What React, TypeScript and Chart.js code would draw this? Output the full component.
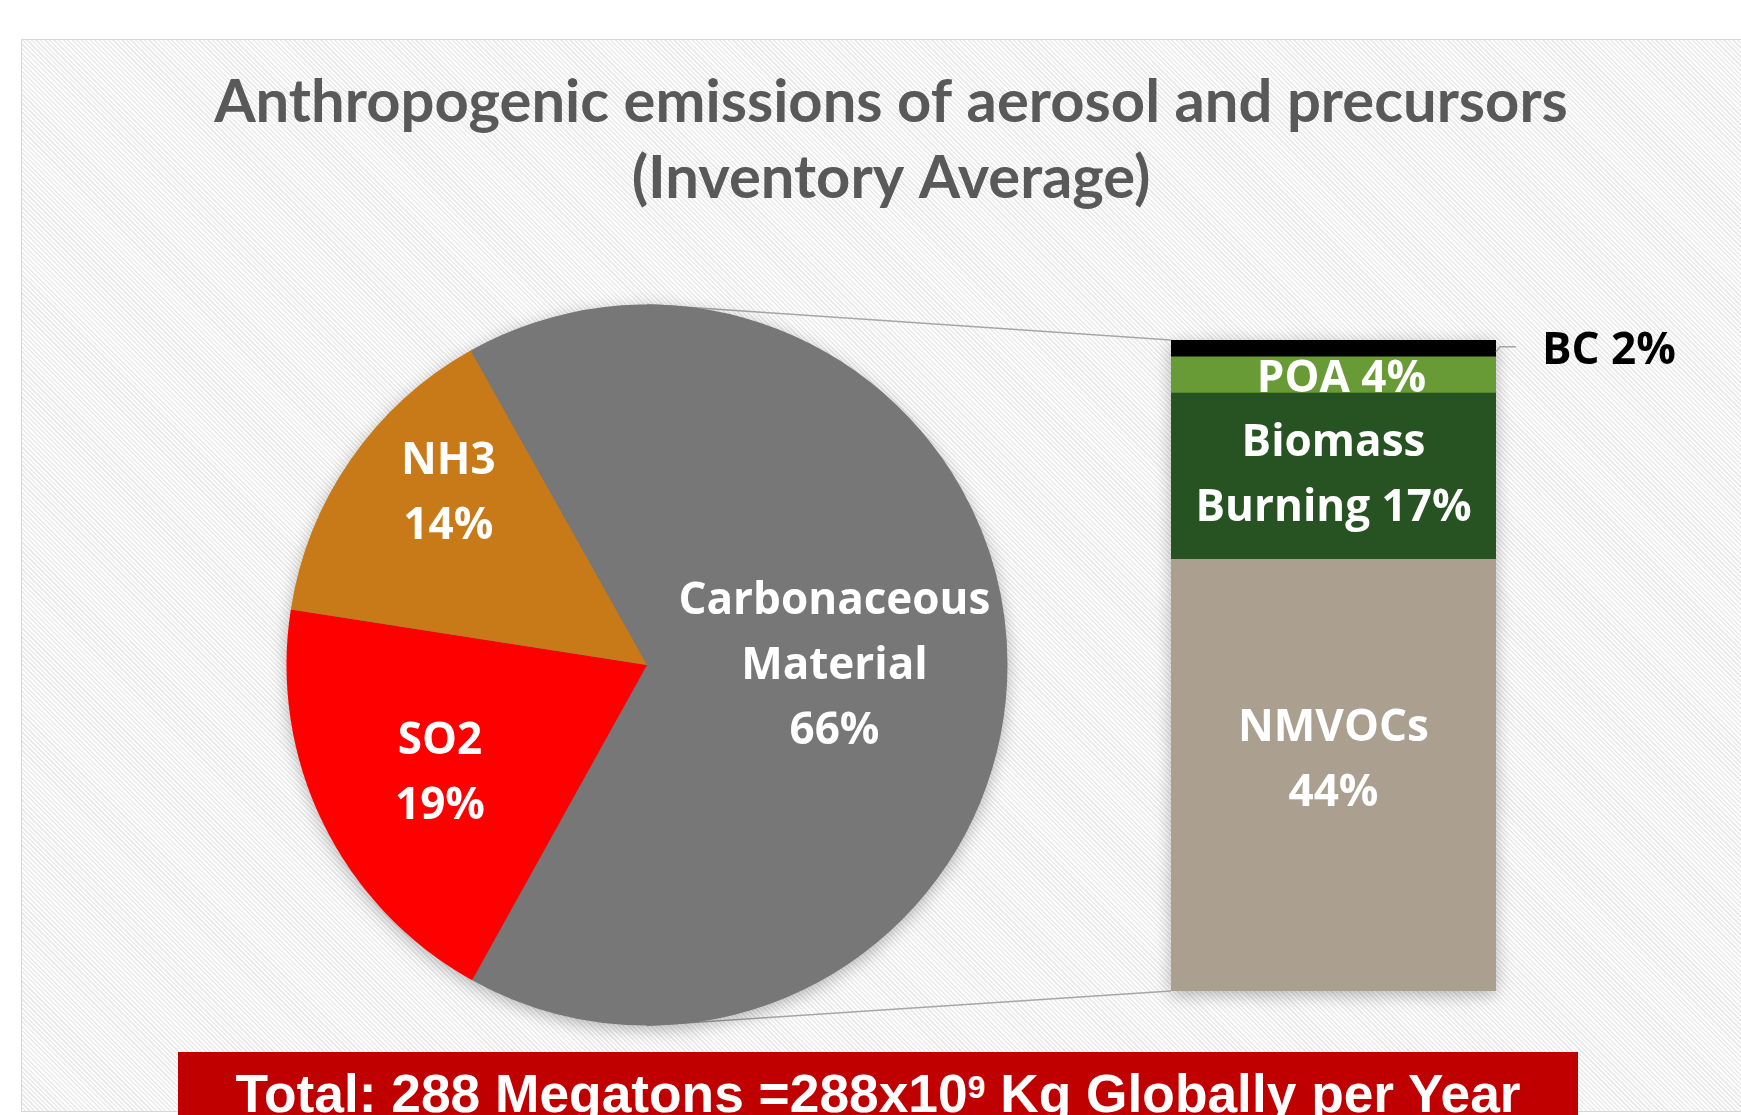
import React, { useEffect, useRef } from 'react';
import { Chart, registerables } from 'chart.js';

Chart.register(...registerables);

// ---------------- data ----------------
const titleLines = ['Anthropogenic emissions of aerosol and precursors', '(Inventory Average)'];
const pieCategories = ['Carbonaceous Material', 'SO2', 'NH3'];
const pieValues = [66.2, 19.4, 14.4];
const barCategories = ['NMVOCs', 'Biomass Burning', 'POA', 'BC'];
const barValues = [43.9, 16.9, 3.7, 1.7];
const totalMegatons = 288;
const totalExponent = 9;

// ---------------- style ----------------
const pieColors = ['#777777', '#ff0000', '#c77a17'];
const barColors = ['#aba090', '#275323', '#689a36', '#000000'];
const FRAME_W = 1719;
const FRAME_H = 1071;
const TITLE_FAMILY = 'Lato';
const LABEL_FAMILY = '"Open Sans"';
const TITLE_WIDTH = 1354; // target rendered width of the first title line
const LABEL_WIDTH = 312; // target rendered width of the word "Carbonaceous"
const LABEL_LH = 65;
const LABEL_DY = 2;
const pieLabelRadius = [0.52, 0.646, 0.73];
const pieLabelAngleShift = [0, -1.2, 6.2]; // degrees
const barLabelDx = [0, 0, 8, 0];
const barLabelDy = [-16, -2, 3, 0];
const LINE_COLOR = '#a6a6a6';

const barTotal = barValues.reduce((a, b) => a + b, 0);

function fitSize(text: string, family: string, target: number): number {
  const c = document.createElement('canvas').getContext('2d')!;
  c.font = `bold 100px ${family}`;
  const w = c.measureText(text).width;
  return w > 0 ? (100 * target) / w : 50;
}

export default function App() {
  const barCanvas = useRef<HTMLCanvasElement>(null);
  const pieCanvas = useRef<HTMLCanvasElement>(null);

  useEffect(() => {
    if (!barCanvas.current || !pieCanvas.current) return;

    const titleSize = fitSize(titleLines[0], TITLE_FAMILY, TITLE_WIDTH);
    const labelSize = fitSize(pieCategories[0].split(' ')[0], LABEL_FAMILY, LABEL_WIDTH);
    const LABEL_FONT = `bold ${labelSize}px ${LABEL_FAMILY}`;

    const stackGeom = (chart: any) => {
      const els = barValues.map((_, i) => chart.getDatasetMeta(i).data[0] as any);
      const first = els[0];
      const last = els[els.length - 1];
      return {
        els,
        left: first.x - first.width / 2,
        right: first.x + first.width / 2,
        top: last.y,
        bottom: first.base,
      };
    };

    const barPlugin = {
      id: 'barExtras',
      beforeDatasetsDraw(chart: any) {
        const g = stackGeom(chart);
        const ctx = chart.ctx as CanvasRenderingContext2D;
        ctx.save();
        ctx.shadowColor = 'rgba(0,0,0,0.28)';
        ctx.shadowBlur = 16;
        ctx.shadowOffsetY = 4;
        ctx.fillStyle = barColors[0];
        ctx.fillRect(g.left, g.top, g.right - g.left, g.bottom - g.top);
        ctx.restore();
      },
      afterDatasetsDraw(chart: any) {
        const g = stackGeom(chart);
        const ctx = chart.ctx as CanvasRenderingContext2D;
        ctx.save();
        ctx.font = LABEL_FONT;
        ctx.textAlign = 'center';
        ctx.textBaseline = 'middle';
        g.els.forEach((el: any, i: number) => {
          const pct = Math.round(barValues[i]);
          const h = el.base - el.y;
          const cy = (el.y + el.base) / 2 + barLabelDy[i] + LABEL_DY;
          const cx = el.x + barLabelDx[i];
          const words = barCategories[i].split(' ');
          if (h < LABEL_LH * 0.45) {
            ctx.strokeStyle = LINE_COLOR;
            ctx.lineWidth = 1.5;
            ctx.beginPath();
            ctx.moveTo(g.right, cy + 1.5);
            ctx.lineTo(g.right + 4, cy - 3.5);
            ctx.lineTo(g.right + 20, cy - 3.5);
            ctx.stroke();
            ctx.fillStyle = '#000000';
            ctx.textAlign = 'left';
            ctx.fillText(`${barCategories[i]} ${pct}%`, g.right + 46, cy + 1);
            ctx.textAlign = 'center';
          } else {
            let lines: string[];
            if (words.length > 1) lines = [...words.slice(0, -1), `${words[words.length - 1]} ${pct}%`];
            else if (h >= LABEL_LH * 2) lines = [words[0], `${pct}%`];
            else lines = [`${words[0]} ${pct}%`];
            ctx.fillStyle = '#ffffff';
            lines.forEach((t, k) => ctx.fillText(t, cx, cy + (k - (lines.length - 1) / 2) * LABEL_LH));
          }
        });
        ctx.restore();
      },
    };

    const hiddenAxis = {
      display: true,
      grid: { display: false },
      ticks: { display: false },
      border: { display: false },
    };

    const bar = new Chart(barCanvas.current, {
      type: 'bar',
      data: {
        labels: [''],
        datasets: barCategories.map((c, i) => ({
          label: c,
          data: [barValues[i]],
          backgroundColor: barColors[i],
          borderWidth: 0,
          categoryPercentage: 1,
          barPercentage: 1,
          yAxisID: 'y',
        })),
      },
      options: {
        responsive: false,
        animation: false,
        events: [],
        layout: { padding: { left: 19, right: 0, top: 0, bottom: 120 } },
        plugins: {
          legend: { display: false },
          tooltip: { enabled: false },
          title: {
            display: true,
            text: titleLines,
            color: '#595959',
            font: { family: TITLE_FAMILY, weight: 'bold', size: titleSize, lineHeight: '75.5px' },
            padding: { top: 25, bottom: 124 },
          },
        },
        scales: {
          x: { display: false, stacked: true },
          y: {
            ...hiddenAxis,
            position: 'left',
            stacked: true,
            min: 0,
            max: barTotal,
            afterFit: (s: any) => {
              s.width = 1130;
            },
          },
          y2: {
            ...hiddenAxis,
            position: 'right',
            afterFit: (s: any) => {
              s.width = 245;
            },
          },
        },
      },
      plugins: [barPlugin],
    } as any);

    const piePlugin = {
      id: 'pieExtras',
      beforeDatasetsDraw(chart: any) {
        const ctx = chart.ctx as CanvasRenderingContext2D;
        const arc = chart.getDatasetMeta(0).data[0] as any;
        const { x, y, outerRadius } = arc;
        const g = stackGeom(bar);
        ctx.save();
        ctx.strokeStyle = LINE_COLOR;
        ctx.lineWidth = 1.5;
        ctx.beginPath();
        ctx.moveTo(x, y - outerRadius);
        ctx.lineTo(g.left, g.top);
        ctx.moveTo(x, y + outerRadius);
        ctx.lineTo(g.left, g.bottom);
        ctx.stroke();
        ctx.shadowColor = 'rgba(0,0,0,0.3)';
        ctx.shadowBlur = 18;
        ctx.shadowOffsetY = 4;
        ctx.fillStyle = pieColors[0];
        ctx.beginPath();
        ctx.arc(x, y, outerRadius - 1, 0, Math.PI * 2);
        ctx.fill();
        ctx.restore();
      },
      afterDatasetsDraw(chart: any) {
        const ctx = chart.ctx as CanvasRenderingContext2D;
        const meta = chart.getDatasetMeta(0);
        ctx.save();
        ctx.font = LABEL_FONT;
        ctx.textAlign = 'center';
        ctx.textBaseline = 'middle';
        ctx.fillStyle = '#ffffff';
        meta.data.forEach((a: any, i: number) => {
          const mid = (a.startAngle + a.endAngle) / 2 + (pieLabelAngleShift[i] * Math.PI) / 180;
          const r = a.outerRadius * pieLabelRadius[i];
          const cx = a.x + Math.cos(mid) * r;
          const cy = a.y + Math.sin(mid) * r + LABEL_DY;
          const lines = [...pieCategories[i].split(' '), `${Math.round(pieValues[i])}%`];
          lines.forEach((t, k) => ctx.fillText(t, cx, cy + (k - (lines.length - 1) / 2) * LABEL_LH));
        });
        ctx.restore();
      },
    };

    const pie = new Chart(pieCanvas.current, {
      type: 'pie',
      data: {
        labels: pieCategories,
        datasets: [{ data: pieValues, backgroundColor: pieColors, borderWidth: 0 }],
      },
      options: {
        responsive: false,
        animation: false,
        events: [],
        rotation: -29.3,
        layout: { padding: { left: 264.5, top: 264.5, right: 733.5, bottom: 85.5 } },
        plugins: { legend: { display: false }, tooltip: { enabled: false } },
      },
      plugins: [piePlugin],
    } as any);

    return () => {
      pie.destroy();
      bar.destroy();
    };
  }, []);

  const canvasStyle: React.CSSProperties = {
    position: 'absolute',
    left: 0,
    top: 0,
    width: FRAME_W,
    height: FRAME_H,
  };

  return (
    <>
      <div
        style={{
          position: 'absolute',
          left: 21,
          top: 39,
          width: FRAME_W + 1,
          height: FRAME_H + 2,
          boxSizing: 'border-box',
          border: '1px solid #d6d6d6',
          borderRight: 'none',
          background:
            'repeating-linear-gradient(45deg, #ffffff 0px, #ffffff 1.6px, #ebebeb 1.6px, #ebebeb 3.2px)',
          overflow: 'hidden',
        }}
      >
        <canvas ref={barCanvas} width={FRAME_W} height={FRAME_H} style={canvasStyle} />
        <canvas ref={pieCanvas} width={FRAME_W} height={FRAME_H} style={canvasStyle} />
      </div>
      <div
        style={{
          position: 'absolute',
          left: 178,
          top: 1052,
          width: 1400,
          height: 63,
          background: '#c00000',
          overflow: 'hidden',
        }}
      >
        <div
          style={{
            position: 'absolute',
            left: 0,
            right: 0,
            top: 15,
            textAlign: 'center',
            color: '#ffffff',
            font: 'bold 53.3px "Liberation Sans", Arial, sans-serif',
            lineHeight: '54px',
            whiteSpace: 'nowrap',
          }}
        >
          Total: {totalMegatons} Megatons ={totalMegatons}x10
          <sup style={{ fontSize: '60%', verticalAlign: 'baseline', position: 'relative', top: -14 }}>
            {totalExponent}
          </sup>{' '}
          Kg Globally per Year
        </div>
      </div>
    </>
  );
}
